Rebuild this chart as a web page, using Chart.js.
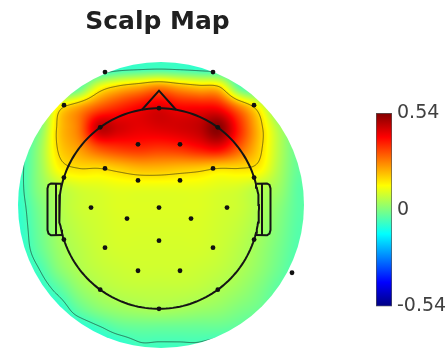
<!DOCTYPE html>
<html>
<head>
<meta charset="utf-8">
<script src="https://cdn.jsdelivr.net/npm/chart.js@4.4.1/dist/chart.umd.min.js"></script>
<style>
  html, body { margin: 0; padding: 0; background: #fff; overflow: hidden; }
  #mapBox { position: absolute; left: 0; top: 0; width: 318px; height: 358px; }
  #barBox { position: absolute; left: 376px; top: 0; width: 72px; height: 358px; }
</style>
</head>
<body>
<div id="mapBox"><canvas id="map"></canvas></div>
<div id="barBox"><canvas id="bar"></canvas></div>
<script>
// Colour scale limits and colour-bar ticks
const valueMin = -0.54;
const valueMax = 0.54;
const colorbarTicks = [-0.54, 0, 0.54];
const contourLevels = [-0.06, 0.17];

// Electrode positions (head radius = 1, nose up)
const electrodeX = [-0.54, 0.54, -0.95, 0.95, 0, -0.588, 0.588, -0.21, 0.21, -0.54, 0.54, -0.951, 0.951,
  -0.21, 0.21, -0.68, 0, 0.68, -0.32, 0.32, -0.951, 0.951, 0, -0.54, 0.54, -0.21, 0.21, -0.588, 0.588, 0, 1.33];
const electrodeY = [1.36, 1.36, 1.03, 1.03, 1.0, 0.809, 0.809, 0.64, 0.64, 0.40, 0.40, 0.309, 0.309,
  0.28, 0.28, 0.01, 0.01, 0.01, -0.10, -0.10, -0.309, -0.309, -0.32, -0.39, -0.39, -0.62, -0.62, -0.809, -0.809, -1.0, -0.64];

// Potential field sampled on a regular grid (columns = fieldX, rows = fieldY)
const fieldX = [-1.4, -1.2, -1.0, -0.8, -0.6, -0.4, -0.2, 0, 0.2, 0.4, 0.6, 0.8, 1.0, 1.2, 1.4];
const fieldY = [1.4, 1.2, 1.0, 0.8, 0.6, 0.4, 0.2, 0, -0.2, -0.4, -0.6, -0.8, -1.0, -1.2, -1.4];
const fieldValues = [
  [-0.11, -0.11, -0.11, -0.11, -0.11, -0.085, -0.075, -0.07, -0.075, -0.085, -0.10, -0.11, -0.11, -0.11, -0.11],
  [-0.11, -0.11, -0.10, -0.03, 0.13, 0.20, 0.24, 0.28, 0.24, 0.21, 0.19, -0.02, -0.08, -0.11, -0.11],
  [-0.11, -0.06, 0.15, 0.24, 0.32, 0.37, 0.41, 0.44, 0.41, 0.41, 0.40, 0.28, 0.14, -0.03, -0.08],
  [-0.09, -0.01, 0.19, 0.28, 0.47, 0.45, 0.43, 0.44, 0.45, 0.47, 0.53, 0.37, 0.20, 0.05, -0.04],
  [-0.08, 0.02, 0.18, 0.24, 0.32, 0.35, 0.36, 0.35, 0.36, 0.39, 0.41, 0.31, 0.19, 0.06, -0.03],
  [-0.075, 0.02, 0.14, 0.17, 0.17, 0.19, 0.21, 0.21, 0.20, 0.19, 0.17, 0.17, 0.15, 0.05, -0.03],
  [-0.075, 0.01, 0.06, 0.09, 0.10, 0.11, 0.11, 0.11, 0.11, 0.11, 0.10, 0.09, 0.06, 0.03, -0.04],
  [-0.08, -0.01, 0.05, 0.08, 0.09, 0.10, 0.10, 0.10, 0.10, 0.10, 0.09, 0.08, 0.05, 0.01, -0.04],
  [-0.085, -0.02, 0.04, 0.07, 0.085, 0.095, 0.095, 0.095, 0.095, 0.095, 0.085, 0.07, 0.04, 0.00, -0.045],
  [-0.09, -0.03, 0.03, 0.06, 0.08, 0.09, 0.09, 0.09, 0.09, 0.09, 0.08, 0.06, 0.03, -0.01, -0.05],
  [-0.10, -0.06, 0.01, 0.05, 0.07, 0.08, 0.085, 0.085, 0.085, 0.08, 0.07, 0.05, 0.02, -0.02, -0.06],
  [-0.11, -0.09, -0.04, 0.02, 0.05, 0.065, 0.07, 0.07, 0.07, 0.065, 0.05, 0.03, 0.00, -0.04, -0.07],
  [-0.11, -0.11, -0.09, -0.03, 0.01, 0.03, 0.04, 0.045, 0.04, 0.03, 0.02, 0.00, -0.02, -0.06, -0.08],
  [-0.11, -0.11, -0.11, -0.10, -0.07, -0.04, -0.03, -0.03, -0.03, -0.03, -0.03, -0.04, -0.06, -0.08, -0.09],
  [-0.11, -0.11, -0.11, -0.11, -0.11, -0.10, -0.07, -0.07, -0.07, -0.07, -0.09, -0.10, -0.11, -0.11, -0.11]
];

// Head cartoon geometry
const diskCenter = [0.02, 0.035];
const diskRadius = 1.43;
const noseX = [-0.17, 0, 0.17];
const noseY = [0.985, 1.175, 0.985];
const earOuterX = [0.975, 1.08, 1.105, 1.115, 1.115, 1.105, 1.08, 0.965];
const earOuterY = [0.247, 0.25, 0.235, 0.2, -0.215, -0.25, -0.267, -0.265];
const earInnerX = [1.03, 1.03];
const earInnerY = [0.25, -0.265];

const toPoints = (xs, ys, sx = 1) => xs.map((v, i) => ({ x: v * sx, y: ys[i] }));
const headCircle = [];
for (let k = 0; k <= 180; k++) {
  const a = (k / 180) * 2 * Math.PI;
  headCircle.push({ x: Math.cos(a), y: Math.sin(a) });
}

function jet(v) {
  let t = (v - valueMin) / (valueMax - valueMin);
  t = Math.max(0, Math.min(1, t));
  const c = (u) => Math.max(0, Math.min(1, u));
  return [c(1.5 - Math.abs(4 * t - 3)) * 255, c(1.5 - Math.abs(4 * t - 2)) * 255, c(1.5 - Math.abs(4 * t - 1)) * 255];
}

function catmull(p0, p1, p2, p3, t) {
  return p1 + 0.5 * t * (p2 - p0 + t * (2 * p0 - 5 * p1 + 4 * p2 - p3 + t * (3 * (p1 - p2) + p3 - p0)));
}

function sampleField(vx, vy) {
  const nx = fieldX.length, ny = fieldY.length;
  let gx = (vx - fieldX[0]) / (fieldX[1] - fieldX[0]);
  let gy = (fieldY[0] - vy) / (fieldY[0] - fieldY[1]);
  gx = Math.max(0, Math.min(nx - 1, gx));
  gy = Math.max(0, Math.min(ny - 1, gy));
  const i = Math.min(Math.floor(gx), nx - 2), j = Math.min(Math.floor(gy), ny - 2);
  const tx = gx - i, ty = gy - j;
  const ci = (k) => Math.max(0, Math.min(nx - 1, k));
  const cj = (k) => Math.max(0, Math.min(ny - 1, k));
  const rows = [];
  for (let r = -1; r <= 2; r++) {
    const row = fieldValues[cj(j + r)];
    rows.push(catmull(row[ci(i - 1)], row[ci(i)], row[ci(i + 1)], row[ci(i + 2)], tx));
  }
  return catmull(rows[0], rows[1], rows[2], rows[3], ty);
}

// Paints the interpolated map and its contour lines underneath the head outline
const scalpField = {
  id: 'scalpField',
  beforeDatasetsDraw(chart) {
    const { ctx } = chart;
    const xs = chart.scales.x, ys = chart.scales.y;
    const cx = xs.getPixelForValue(diskCenter[0]);
    const cy = ys.getPixelForValue(diskCenter[1]);
    const rad = xs.getPixelForValue(diskCenter[0] + diskRadius) - cx;
    const x0 = Math.floor(cx - rad) - 2, y0 = Math.floor(cy - rad) - 2;
    const w = Math.ceil(2 * rad) + 5, h = w;
    const vals = new Float32Array(w * h);
    for (let j = 0; j < h; j++) {
      const vy = ys.getValueForPixel(y0 + j + 0.5);
      for (let i = 0; i < w; i++) {
        vals[j * w + i] = sampleField(xs.getValueForPixel(x0 + i + 0.5), vy);
      }
    }
    const off = document.createElement('canvas');
    off.width = w; off.height = h;
    const octx = off.getContext('2d');
    const img = octx.createImageData(w, h);
    for (let k = 0; k < w * h; k++) {
      const col = jet(vals[k]);
      img.data[k * 4] = col[0];
      img.data[k * 4 + 1] = col[1];
      img.data[k * 4 + 2] = col[2];
      img.data[k * 4 + 3] = 255;
    }
    octx.putImageData(img, 0, 0);

    ctx.save();
    ctx.beginPath();
    ctx.arc(cx, cy, rad, 0, 2 * Math.PI);
    ctx.clip();
    ctx.drawImage(off, x0, y0);

    ctx.lineWidth = 1;
    ctx.strokeStyle = 'rgba(20,20,20,0.55)';
    for (const level of contourLevels) {
      ctx.beginPath();
      for (let j = 0; j < h - 1; j++) {
        for (let i = 0; i < w - 1; i++) {
          const a = vals[j * w + i], b = vals[j * w + i + 1];
          const d = vals[(j + 1) * w + i], c = vals[(j + 1) * w + i + 1];
          const px = x0 + i + 0.5, py = y0 + j + 0.5;
          const pts = [];
          if ((a > level) !== (b > level)) pts.push([px + (level - a) / (b - a), py]);
          if ((b > level) !== (c > level)) pts.push([px + 1, py + (level - b) / (c - b)]);
          if ((d > level) !== (c > level)) pts.push([px + (level - d) / (c - d), py + 1]);
          if ((a > level) !== (d > level)) pts.push([px, py + (level - a) / (d - a)]);
          for (let p = 0; p + 1 < pts.length; p += 2) {
            ctx.moveTo(pts[p][0], pts[p][1]);
            ctx.lineTo(pts[p + 1][0], pts[p + 1][1]);
          }
        }
      }
      ctx.stroke();
    }
    ctx.restore();
  }
};

const outline = (data) => ({
  data, showLine: true, pointRadius: 0, borderColor: '#151515', borderWidth: 2,
  fill: false, tension: 0
});

new Chart(document.getElementById('map'), {
  type: 'scatter',
  data: {
    datasets: [
      {
        data: toPoints(electrodeX, electrodeY),
        pointRadius: 2.4, pointBackgroundColor: '#111', pointBorderWidth: 0, showLine: false
      },
      outline(headCircle),
      outline(toPoints(noseX, noseY)),
      outline(toPoints(earOuterX, earOuterY)),
      outline(toPoints(earInnerX, earInnerY)),
      outline(toPoints(earOuterX, earOuterY, -1)),
      outline(toPoints(earInnerX, earInnerY, -1))
    ]
  },
  options: {
    responsive: true,
    maintainAspectRatio: false,
    animation: false,
    events: [],
    layout: { padding: { left: 0.5, right: 3.5, top: 0, bottom: 1.1 } },
    plugins: {
      legend: { display: false },
      tooltip: { enabled: false },
      title: {
        display: true,
        text: 'Scalp Map',
        color: '#202020',
        font: { family: 'DejaVu Sans', size: 25, weight: 'bold', lineHeight: 1.2 },
        padding: { top: 7, bottom: 21.05 }
      }
    },
    scales: {
      x: { type: 'linear', min: -1.55, max: 1.55, display: false },
      y: { type: 'linear', min: -1.45, max: 1.5, display: false }
    }
  },
  plugins: [scalpField]
});

// Colour bar: one floating bar spanning the full range, filled with the colour map
const jetStops = [0, 0.125, 0.375, 0.625, 0.875, 1];
new Chart(document.getElementById('bar'), {
  type: 'bar',
  data: {
    labels: [''],
    datasets: [{
      data: [[valueMin, valueMax]],
      backgroundColor: (c) => {
        const area = c.chart.chartArea;
        if (!area) return '#888';
        const g = c.chart.ctx.createLinearGradient(0, area.bottom, 0, area.top);
        for (const s of jetStops) {
          const col = jet(valueMin + s * (valueMax - valueMin));
          g.addColorStop(s, `rgb(${col[0]},${col[1]},${col[2]})`);
        }
        return g;
      },
      borderColor: '#555',
      borderWidth: 1,
      borderSkipped: false,
      barPercentage: 1,
      categoryPercentage: 1
    }]
  },
  options: {
    responsive: true,
    maintainAspectRatio: false,
    animation: false,
    events: [],
    layout: { padding: { left: 0, right: 0, top: 113, bottom: 51.5 } },
    plugins: { legend: { display: false }, tooltip: { enabled: false } },
    scales: {
      x: { display: false },
      y: {
        position: 'right',
        min: valueMin,
        max: valueMax,
        grid: { display: false, drawTicks: false },
        border: { display: false },
        afterBuildTicks: (s) => { s.ticks = colorbarTicks.map((v) => ({ value: v })); },
        afterFit: (s) => { s.width = 56; },
        ticks: {
          padding: 5,
          color: '#404040',
          font: { family: 'DejaVu Sans', size: 19 },
          callback: (v) => String(v)
        }
      }
    }
  }
});
</script>
</body>
</html>
